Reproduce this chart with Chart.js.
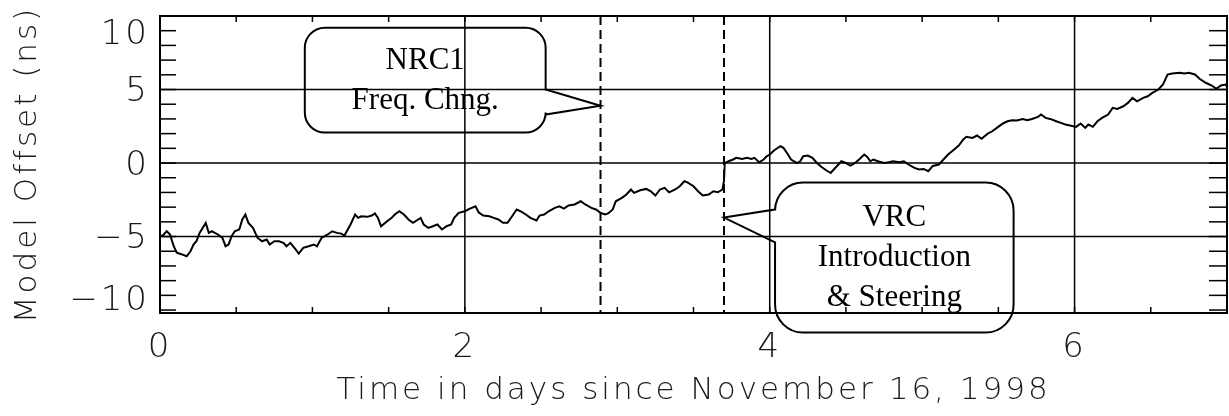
<!DOCTYPE html>
<html>
<head>
<meta charset="utf-8">
<script src="https://cdn.jsdelivr.net/npm/chart.js@4/dist/chart.umd.min.js"></script>
<style>
  body { margin: 0; background: #fff; }
  canvas { display: block; }
</style>
</head>
<body>
<canvas id="offsetChart" width="1229" height="416"></canvas>
<script>
// time axis (days since Nov 16, 1998) and model offset (ns)
var days = [
  0, 0.02, 0.044, 0.066, 0.09, 0.11, 0.14, 0.175, 0.2, 0.22, 0.24, 0.26, 0.30, 0.32, 0.34, 0.36, 0.38, 0.41, 0.43, 0.45,
  0.47, 0.49, 0.52, 0.54, 0.56, 0.58, 0.61, 0.64, 0.67, 0.70, 0.72, 0.75, 0.78, 0.81, 0.83, 0.855, 0.89, 0.91, 0.94, 0.975,
  1.01, 1.03, 1.06, 1.10, 1.13, 1.16, 1.19, 1.21, 1.25, 1.28, 1.30, 1.32, 1.36, 1.39, 1.41, 1.43, 1.45, 1.49, 1.52, 1.54,
  1.57, 1.60, 1.63, 1.66, 1.71, 1.73, 1.76, 1.79, 1.82, 1.85, 1.88, 1.91, 1.93, 1.96, 2.0, 2.03, 2.07, 2.09, 2.12, 2.16,
  2.19, 2.22, 2.25, 2.28, 2.31, 2.34, 2.37, 2.40, 2.43, 2.47, 2.49, 2.52, 2.55, 2.59, 2.62, 2.65, 2.68, 2.72, 2.76, 2.79,
  2.83, 2.86, 2.89, 2.92, 2.94, 2.97, 2.99, 3.03, 3.06, 3.09, 3.11, 3.15, 3.19, 3.22, 3.25, 3.28, 3.31, 3.34, 3.38, 3.41,
  3.44, 3.46, 3.50, 3.53, 3.56, 3.60, 3.63, 3.66, 3.69, 3.70, 3.705, 3.73, 3.76, 3.78, 3.82, 3.85, 3.88, 3.90, 3.93, 3.96,
  3.98, 4.0, 4.03, 4.07, 4.09, 4.12, 4.14, 4.18, 4.20, 4.22, 4.25, 4.28, 4.31, 4.34, 4.38, 4.40, 4.42, 4.44, 4.47, 4.50,
  4.53, 4.56, 4.59, 4.62, 4.64, 4.66, 4.68, 4.71, 4.75, 4.78, 4.81, 4.85, 4.88, 4.91, 4.95, 4.98, 5.01, 5.04, 5.07, 5.11,
  5.14, 5.17, 5.21, 5.24, 5.27, 5.29, 5.33, 5.36, 5.39, 5.43, 5.46, 5.49, 5.53, 5.56, 5.59, 5.62, 5.66, 5.69, 5.72, 5.76,
  5.78, 5.81, 5.84, 5.88, 5.91, 5.94, 5.97, 6.01, 6.04, 6.07, 6.09, 6.12, 6.15, 6.18, 6.22, 6.25, 6.28, 6.32, 6.35, 6.38,
  6.41, 6.45, 6.48, 6.51, 6.55, 6.58, 6.61, 6.64, 6.69, 6.72, 6.75, 6.79, 6.82, 6.86, 6.90, 6.93, 6.96, 6.99, 7.0
];
var offsetNs = [
  -5.0, -4.9, -4.64, -4.87, -5.66, -6.1, -6.2, -6.34, -6.0, -5.54, -5.3, -4.75, -4.07, -4.75, -4.64, -4.75, -4.86, -5.09, -5.66, -5.54,
  -4.98, -4.64, -4.52, -3.84, -3.5, -4.07, -4.41, -5.09, -5.32, -5.2, -5.54, -5.32, -5.32, -5.43, -5.66, -5.43, -5.88, -6.16, -5.77, -5.66,
  -5.54, -5.66, -5.09, -4.86, -4.64, -4.75, -4.8, -4.93, -4.18, -3.5, -3.73, -3.62, -3.66, -3.57, -3.43, -3.73, -4.3, -3.96, -3.73, -3.5,
  -3.28, -3.5, -3.84, -4.07, -3.73, -4.18, -4.41, -4.3, -4.18, -4.52, -4.3, -4.18, -3.73, -3.39, -3.28, -3.12, -2.94, -3.35, -3.57, -3.62,
  -3.73, -3.84, -4.07, -4.07, -3.62, -3.16, -3.3, -3.5, -3.73, -3.91, -3.57, -3.5, -3.28, -3.05, -2.94, -3.1, -2.89, -2.82, -2.6, -2.82,
  -3.05, -3.16, -3.39, -3.5, -3.43, -3.16, -2.6, -2.37, -2.14, -1.8, -2.03, -1.85, -1.76, -1.92, -2.21, -1.8, -1.69, -1.99, -1.8, -1.58,
  -1.24, -1.31, -1.58, -1.92, -2.21, -2.14, -1.92, -1.99, -1.8, -1.2, 0.0, 0.12, 0.24, 0.35, 0.28, 0.35, 0.28, 0.35, 0.05, 0.24,
  0.46, 0.58, 0.87, 1.14, 1.03, 0.58, 0.24, 0.0, 0.12, 0.46, 0.51, 0.35, 0.0, -0.27, -0.56, -0.67, -0.44, -0.22, 0.12, 0.0,
  -0.17, 0.0, 0.28, 0.58, 0.42, 0.12, 0.24, 0.12, 0.0, 0.05, 0.12, 0.05, 0.12, -0.1, -0.33, -0.44, -0.4, -0.56, -0.2, -0.1,
  0.24, 0.58, 0.92, 1.19, 1.6, 1.78, 1.71, 1.87, 1.65, 2.0, 2.16, 2.39, 2.69, 2.84, 2.91, 2.89, 3.0, 2.91, 3.0, 3.14,
  3.3, 3.07, 3.0, 2.84, 2.73, 2.62, 2.55, 2.46, 2.69, 2.39, 2.62, 2.46, 2.84, 3.07, 3.3, 3.75, 3.68, 3.86, 4.09, 4.43,
  4.2, 4.43, 4.54, 4.77, 5.0, 5.34, 6.02, 6.09, 6.14, 6.09, 6.14, 6.02, 5.73, 5.46, 5.27, 5.05, 5.27, 5.34, 5.2
];

var xTickValues = [0, 2, 4, 6];
var yTickValues = [10, 5, 0, -5, -10];
var xGridValues = [2, 4, 6];
var yGridValues = [5, 0, -5];
var eventDays = [2.89, 3.70];   // NRC1 frequency change, VRC introduction

// callouts in data coordinates
var callouts = [
  { lines: ['NRC1', 'Freq. Chng.'], x0: 0.95, x1: 2.53, y0: 9.2, y1: 2.07, side: 'right',
    tipX: 2.89, tipY: 3.9, baseA: 5.0, baseB: 3.3, radius: 20 },
  { lines: ['VRC', 'Introduction', '& Steering'], x0: 4.035, x1: 5.60, y0: -1.33, y1: -11.53, side: 'left',
    tipX: 3.70, tipY: -3.71, baseA: -3.16, baseB: -5.4, radius: 28 }
];

var sansFont = "'DejaVu Sans ExtraLight', 'DejaVu Sans', sans-serif";
var serifFont = "'Liberation Serif', 'DejaVu Serif', serif";
var textColor = '#1a1a1a';

function line(ctx, x1, y1, x2, y2) {
  ctx.beginPath();
  ctx.moveTo(x1, y1);
  ctx.lineTo(x2, y2);
  ctx.stroke();
}

var framePlugin = {
  id: 'frame',
  beforeDraw: function(chart) {
    chart.ctx.letterSpacing = '3px';
  },
  beforeDatasetsDraw: function(chart) {
    var ctx = chart.ctx, a = chart.chartArea;
    var xs = chart.scales.x, ys = chart.scales.y;
    ctx.save();
    ctx.strokeStyle = '#000';
    ctx.lineWidth = 1.5;
    xGridValues.forEach(function(v) {
      var px = xs.getPixelForValue(v);
      line(ctx, px, a.top, px, a.bottom);
    });
    yGridValues.forEach(function(v) {
      var py = ys.getPixelForValue(v);
      line(ctx, a.left, py, a.right, py);
    });
    // minor ticks
    for (var d = 0.5; d < 7; d += 0.5) {
      var px = xs.getPixelForValue(d);
      line(ctx, px, a.top, px, a.top + 6);
      line(ctx, px, a.bottom, px, a.bottom - 6);
    }
    for (var v = -10; v <= 10; v += 1) {
      var py = ys.getPixelForValue(v);
      line(ctx, a.left, py, a.left + 16, py);
      line(ctx, a.right, py, a.right - 18, py);
    }
    // event markers
    ctx.lineWidth = 2;
    ctx.setLineDash([9, 5]);
    eventDays.forEach(function(d) {
      var px = xs.getPixelForValue(d);
      line(ctx, px, a.top, px, a.bottom);
    });
    ctx.setLineDash([]);
    ctx.lineWidth = 2;
    ctx.strokeRect(a.left, a.top, a.right - a.left, a.bottom - a.top);
    ctx.restore();
  },
  afterDatasetsDraw: function(chart) {
    var ctx = chart.ctx, a = chart.chartArea;
    var xs = chart.scales.x, ys = chart.scales.y;
    ctx.save();
    // y tick labels
    ctx.fillStyle = textColor;
    ctx.font = '200 34px ' + sansFont;
    ctx.textAlign = 'right';
    ctx.textBaseline = 'middle';
    yTickValues.forEach(function(v) {
      var py = ys.getPixelForValue(v) + 3;
      py = Math.min(Math.max(py, a.top + 19), a.bottom - 12);
      ctx.fillText(String(v).replace('-', '\u2212'), a.left - 10, py);
    });
    // callouts
    ctx.letterSpacing = '0px';
    ctx.fillStyle = '#000';
    ctx.strokeStyle = '#000';
    ctx.lineWidth = 2;
    callouts.forEach(function(c) {
      var l = xs.getPixelForValue(c.x0), r = xs.getPixelForValue(c.x1);
      var t = ys.getPixelForValue(c.y0), b = ys.getPixelForValue(c.y1);
      var tx = xs.getPixelForValue(c.tipX), ty = ys.getPixelForValue(c.tipY);
      var pa = ys.getPixelForValue(c.baseA), pb = ys.getPixelForValue(c.baseB);
      var rad = c.radius;
      ctx.beginPath();
      ctx.moveTo(l + rad, t);
      ctx.lineTo(r - rad, t);
      ctx.arcTo(r, t, r, t + rad, rad);
      if (c.side === 'right') {
        ctx.lineTo(r, pa);
        ctx.lineTo(tx, ty);
        ctx.lineTo(r, pb);
      }
      ctx.lineTo(r, b - rad);
      ctx.arcTo(r, b, r - rad, b, rad);
      ctx.lineTo(l + rad, b);
      ctx.arcTo(l, b, l, b - rad, rad);
      if (c.side === 'left') {
        ctx.lineTo(l, pb);
        ctx.lineTo(tx, ty);
        ctx.lineTo(l, pa);
      }
      ctx.lineTo(l, t + rad);
      ctx.arcTo(l, t, l + rad, t, rad);
      ctx.closePath();
      ctx.stroke();

      ctx.font = '31px ' + serifFont;
      ctx.textAlign = 'center';
      ctx.textBaseline = 'middle';
      var cx = (l + r) / 2;
      var firstY = c.lines.length === 2 ? t + 33 : t + 35;
      c.lines.forEach(function(txt, i) {
        ctx.fillText(txt, cx, firstY + i * 40);
      });
    });
    ctx.restore();
  }
};

var ctx = document.getElementById('offsetChart');

var points = days.map(function(d, i) { return { x: d, y: offsetNs[i] }; });

var offsetChart = new Chart(ctx, {
  type: 'line',
  data: {
    datasets: [{
      data: points,
      borderColor: '#000',
      borderWidth: 2,
      pointRadius: 0,
      tension: 0,
      fill: false
    }]
  },
  options: {
    responsive: false,
    animation: false,
    devicePixelRatio: 1,
    layout: { padding: { top: 16, right: 2, left: 0, bottom: 0 } },
    plugins: {
      legend: { display: false },
      tooltip: { enabled: false }
    },
    scales: {
      x: {
        type: 'linear',
        min: 0,
        max: 7,
        grid: { display: false },
        border: { display: false },
        afterBuildTicks: function(scale) {
          scale.ticks = xTickValues.map(function(v) { return { value: v }; });
        },
        afterFit: function(scale) { scale.height = 103; },
        ticks: {
          color: textColor,
          padding: 7,
          maxRotation: 0,
          font: { family: sansFont, size: 34, weight: 200 }
        },
        title: {
          display: true,
          text: 'Time in days since November 16, 1998',
          color: textColor,
          padding: { top: 0, bottom: 6 },
          font: { family: sansFont, size: 31, weight: 200 }
        }
      },
      y: {
        min: -10.2,
        max: 10,
        grid: { display: false },
        border: { display: false },
        ticks: { display: false },
        afterFit: function(scale) { scale.width = 160; },
        title: {
          display: true,
          text: 'Model Offset (ns)',
          color: textColor,
          padding: { top: 9, bottom: 0 },
          font: { family: sansFont, size: 31, weight: 200 }
        }
      }
    }
  },
  plugins: [framePlugin]
});
</script>
</body>
</html>
